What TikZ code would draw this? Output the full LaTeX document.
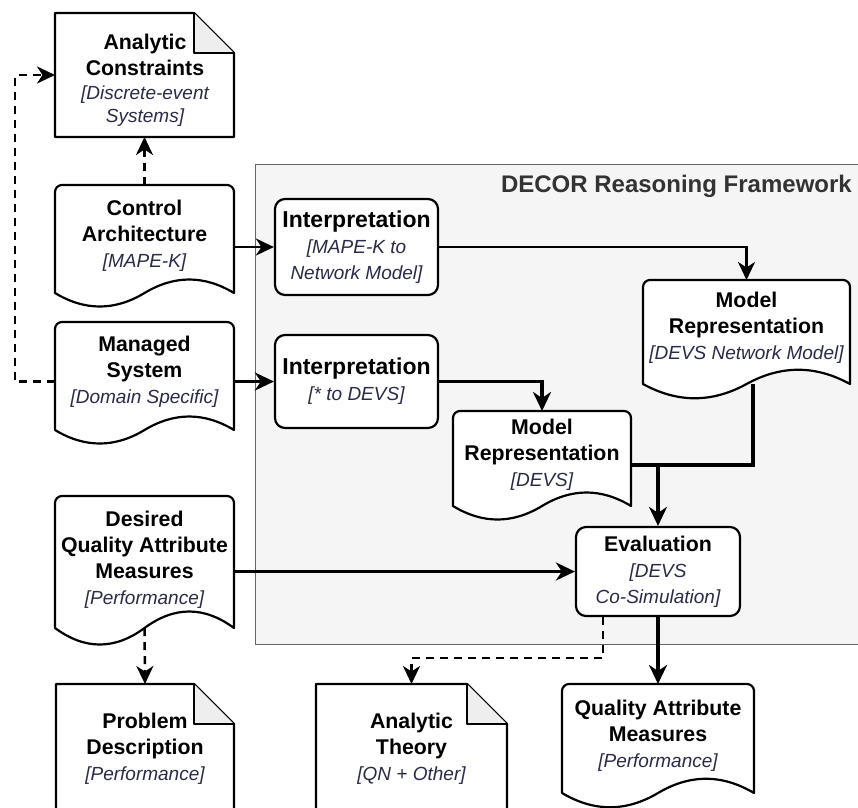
\documentclass[tikz,border=0pt]{standalone}
\usepackage{fontspec}
\setmainfont{Liberation Sans}
\usetikzlibrary{arrows.meta,fit}

\pgfdeclarelayer{bg}
\pgfdeclarelayer{edges}
\pgfsetlayers{bg,edges,main}

\definecolor{itcol}{HTML}{2A2A4A}
\definecolor{frameback}{HTML}{F5F5F5}
\definecolor{frameline}{HTML}{666666}
\definecolor{foldgray}{HTML}{EEEEEE}
\definecolor{titlegray}{HTML}{333333}

\tikzset{
  area/.style={inner sep=0pt, outer sep=0pt, draw=none},
  shapeline/.style={draw=black, line width=2.2pt, fill=white, line join=round},
  roundbox/.style={shapeline, rounded corners=10pt, inner sep=0pt, align=center,
    font=\fontsize{21.3}{26}\selectfont\bfseries},
  txt/.style={align=center, text=black, inner sep=0pt,
    font=\fontsize{21.3}{26}\selectfont\bfseries},
  flow/.style={draw=black, line width=2.5pt,
    -{Stealth[length=18pt,width=17pt,inset=5.5pt]}},
  thickflow/.style={draw=black, line width=3.5pt,
    -{Stealth[length=19pt,width=18pt,inset=6pt]}},
  dashflow/.style={flow, dash pattern=on 8pt off 6pt},
  link/.style={draw=black, line width=3.5pt},
}

% italic subtitle line inside a box
\newcommand\subtxt[1]{{\mdseries\itshape\fontsize{19}{26}\selectfont\color{itcol}#1}}

% invisible rectangle that names the area of a shape
\newcommand\docarea[5]{\node[area, fit={(#2,#3) (#4,#5)}] (#1) {};}

% document shape: x0, y0, x1, base of the wave, wave control offset
\newcommand\docdraw[5]{%
  \draw[shapeline] (#1,#4) -- (#1,{#2+7}) arc[start angle=180,end angle=90,radius=7pt]
    -- ({#3-7},#2) arc[start angle=90,end angle=0,radius=7pt] -- (#3,#4)
    .. controls ({#3-(#3-#1)/6},{#4-#5}) and ({(#1+#3)/2+(#3-#1)/6},{#4-#5}) .. ({(#1+#3)/2},#4)
    .. controls ({(#1+#3)/2-(#3-#1)/6},{#4+#5}) and ({#1+(#3-#1)/6},{#4+#5}) .. (#1,#4) -- cycle;}

% note shape with folded corner: x0, y0, x1, y1
\newcommand\notedraw[4]{%
  \draw[shapeline] (#1,#2) -- ({#3-40},#2) -- (#3,{#2+40}) -- (#3,#4) -- (#1,#4) -- cycle;
  \fill[foldgray] ({#3-40},#2) -- ({#3-40},{#2+40}) -- (#3,{#2+40}) -- cycle;
  \draw[draw=black, line width=2.2pt, line join=round] ({#3-40},#2) -- ({#3-40},{#2+40}) -- (#3,{#2+40});}

\begin{document}
\begin{tikzpicture}[x=1pt,y=-1pt]
\useasboundingbox (0,0) rectangle (858,807);
\clip (0,0) rectangle (858,807);

% framework region
\node[area, fit={(255,164) (862,644)}] (fw) {};
\begin{pgfonlayer}{bg}
  \draw[fill=frameback, draw=frameline, line width=1pt] (fw.north west) rectangle (fw.south east);
\end{pgfonlayer}
\node[anchor=east, text=titlegray, inner sep=0pt,
      font=\fontsize{24}{28}\selectfont\bfseries] (fwtitle) at (852,186) {DECOR Reasoning Framework};

% named areas of document and note shapes
\docarea{ac}{55}{13}{234}{137}
\docarea{ca}{55}{185}{234}{293}
\docarea{ms}{55}{322}{234}{430}
\docarea{dq}{55}{496}{234}{628}
\docarea{mrn}{643}{280}{850}{384}
\docarea{mrd}{453}{411}{631}{506}
\docarea{qam}{562}{684}{754}{793}
\docarea{pd}{56}{684}{234}{815}
\docarea{at}{316}{684}{507}{815}

% shapes
\notedraw{55}{13}{234}{137}
\docdraw{55}{185}{234}{293}{18}
\docdraw{55}{322}{234}{430}{18}
\docdraw{55}{496}{234}{628}{22}
\docdraw{643}{280}{850}{384}{19}
\docdraw{453}{411}{631}{506}{18}
\docdraw{562}{684}{754}{793}{19}
\notedraw{56}{684}{234}{815}
\notedraw{316}{684}{507}{815}

% process boxes
\node[roundbox, minimum width=163pt, minimum height=96pt] (i1) at (356.5,247)
  {{\fontsize{23}{26}\selectfont Interpretation}\\\subtxt{[MAPE-K to}\\\subtxt{Network Model]}};
\node[roundbox, minimum width=163pt, minimum height=93pt] (i2) at (356.5,381.5)
  {{\fontsize{23}{26}\selectfont Interpretation}\\\subtxt{[* to DEVS]}};
\node[roundbox, minimum width=164pt, minimum height=89pt] (ev) at (658,571.5)
  {Evaluation\\\subtxt{[DEVS}\\\subtxt{Co-Simulation]}};

% texts of document and note shapes
\node[txt] (ac-t) at (145,80) {Analytic\\Constraints\\[-2pt]\subtxt{[Discrete-event}\\[-3pt]\subtxt{Systems]}};
\node[txt] (ca-t) at (144.5,235.5) {Control\\Architecture\\\subtxt{[MAPE-K]}};
\node[txt] (ms-t) at (144.5,371.5) {Managed\\System\\\subtxt{[Domain Specific]}};
\node[txt] (dq-t) at (144.5,559.5) {Desired\\Quality Attribute\\Measures\\\subtxt{[Performance]}};
\node[txt] (mrn-t) at (746.5,328) {Model\\Representation\\\subtxt{[DEVS Network Model]}};
\node[txt] (mrd-t) at (542,454.5) {Model\\Representation\\\subtxt{[DEVS]}};
\node[txt] (qam-t) at (658,735.5) {Quality Attribute\\Measures\\\subtxt{[Performance]}};
\node[txt] (pd-t) at (145,748.5) {Problem\\Description\\\subtxt{[Performance]}};
\node[txt] (at-t) at (411.5,748.5) {Analytic\\Theory\\\subtxt{[QN + Other]}};

% connectors
\coordinate (jn) at (658,465);
\begin{pgfonlayer}{edges}
  \draw[flow] (ca.east |- i1.west) -- (i1.west);
  \draw[thickflow] (ms.east |- i2.west) -- (i2.west);
  \draw[flow] (i1.east) -| (mrn.north);
  \draw[thickflow] (i2.east) -| (mrd.north);
  \draw[thickflow] ([xshift=6.5pt]mrn.south) |- (jn) -- (ev.north);
  \draw[link] (mrd.east |- jn) -- (jn);
  \draw[thickflow] (dq.east |- ev.west) -- (ev.west);
  \draw[thickflow] (ev.south) -- (qam.north);
  \draw[dashflow] ([xshift=-55pt]ev.south) -- ++(0,41) -| (at.north);
  \draw[dashflow] (dq.south) -- (pd.north);
  \draw[dashflow] (ca.north) -- (ac.south);
  \draw[dashflow] (ms.west |- i2.west) -- ++(-40,0) |- (ac.west);
\end{pgfonlayer}
\end{tikzpicture}
\end{document}
